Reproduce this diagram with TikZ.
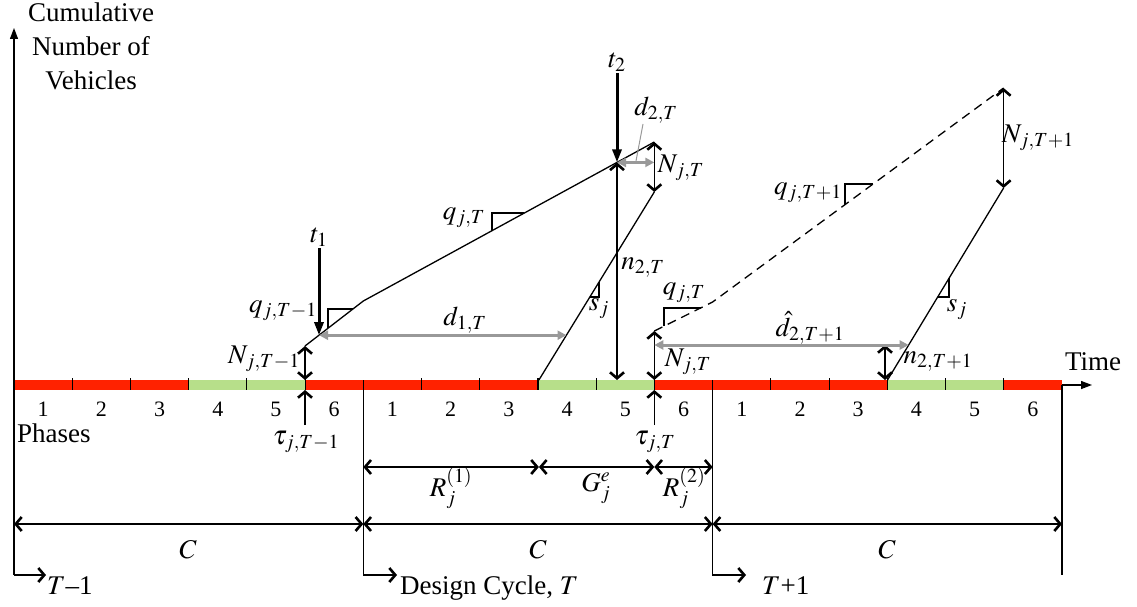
\documentclass[tikz,border=0pt]{standalone}
\usepackage{mathptmx}
\usepackage{fontspec}
\setmainfont{Liberation Serif}
\usetikzlibrary{arrows.meta}

\definecolor{redph}{HTML}{FF2200}
\definecolor{greenph}{HTML}{B7DF8A}
\definecolor{grayarr}{HTML}{999999}

\tikzset{
  lbl/.style={font=\fontsize{27}{34}\selectfont, inner sep=1pt},
  phnum/.style={font=\fontsize{22}{26}\selectfont, inner sep=0pt},
  dimarr/.style={<->, line width=1.4pt, >={Straight Barb[length=6pt,width=14pt,line width=2.6pt]}},
  onearr/.style={->, line width=1.4pt, >={Straight Barb[length=6pt,width=14pt,line width=2.6pt]}},
  grayarr/.style={<->, draw=grayarr, line width=3pt, >={Triangle[length=9pt,width=9pt]}},
  leader/.style={draw=grayarr, line width=1pt},
  tarr/.style={->, line width=3pt, >={Triangle[length=13pt,width=9pt]}},
  axarr/.style={->, line width=1.3pt, >={Triangle[length=11pt,width=8pt]}},
  cumline/.style={line width=1.3pt},
  slopebox/.style={line width=1.2pt},
}

\begin{document}
\begin{tikzpicture}[x=1pt,y=-1pt]
\useasboundingbox (0,0) rectangle (1137,607);

% phase bar of three cycles
\foreach \k in {0,1,2}{
  \pgfmathsetmacro{\b}{14+349.33*\k}
  \fill[redph] (\b,380) rectangle ({\b+3*58.22},390);
  \fill[greenph] ({\b+3*58.22},380) rectangle ({\b+5*58.22},390);
  \fill[redph] ({\b+5*58.22},380) rectangle ({\b+6*58.22},390);
  \foreach \i in {1,...,5}
    \draw[line width=1.2pt] ({\b+\i*58.22},378) -- ({\b+\i*58.22},390);
  \foreach \i in {1,...,6}
    \node[phnum] (ph\k\i) at ({\b+(\i-0.5)*58.22},409) {\i};
}

% axes and cycle boundaries
\coordinate (o) at (14,575);
\coordinate (ytop) at (14,28);
\coordinate (c0arr) at (46,575);
\coordinate (c1top) at (363.3,380);
\coordinate (c1arr) at (397,575);
\coordinate (c2top) at (712.6,380);
\coordinate (c2arr) at (746,575);
\coordinate (c3top) at (1062,385);
\coordinate (c3bot) at (1062,575);
\coordinate (xend) at (1092,385);
\draw[axarr] (o) -- (ytop);
\draw[onearr] (o) -- (c0arr);
\draw[onearr] (c1top) |- (c1arr);
\draw[onearr] (c2top) |- (c2arr);
\draw[line width=1.3pt] (c3top) -- (c3bot);
\draw[axarr] (c3top) -- (xend);

\node[lbl, anchor=north, align=center, inner sep=0pt] (ylab) at (91,3) {Cumulative\\Number of\\Vehicles};
\node[lbl] (time) at (1093,362) {Time};
\node[lbl, anchor=west] (phases) at (16,433) {Phases};
\node[lbl, anchor=base west] (tm1) at (46,594) {$T$--1};
\node[lbl, anchor=base west] (design) at (399,594) {Design Cycle, $T$};
\node[lbl, anchor=base west] (tp1) at (761,594) {$T$+1};

% cycle T arrivals and departures
\coordinate (a0) at (305,346);
\coordinate (a1) at (363.3,301);
\coordinate (a2) at (654.3,142);
\coordinate (dep0) at (538.9,380);
\coordinate (dep1) at (654.3,192);
\draw[cumline] (a0) -- (a1) -- (a2);
\draw[cumline] (dep0) -- (dep1);

\coordinate (t1s) at (319,248);
\coordinate (t1e) at (319,335.2);
\coordinate (t2s) at (617,73);
\coordinate (t2e) at (617,162.4);
\coordinate (n2b) at (617,380);
\coordinate (d1e) at (566.5,335.2);
\coordinate (d2e) at (654.3,162.4);
\coordinate (a0b) at (305,380);
\coordinate (ld0) at (643,124);
\coordinate (ld1) at (636,161);
\draw[tarr] (t1s) -- (t1e);
\draw[tarr] (t2s) -- (t2e);
\draw[dimarr] (a0) -- (a0b);
\draw[dimarr] (t2e) -- (n2b);
\draw[dimarr] (a2) -- (dep1);
\draw[grayarr] (t1e) -- (d1e);
\draw[grayarr] (t2e) -- (d2e);
\draw[leader] (ld0) -- (ld1);

\draw[slopebox] (328,328.2) -- (328,309) -- (352.9,309);
\draw[slopebox] (492,230.7) -- (492,213) -- (524.4,213);
\draw[slopebox] (589.7,297) -- (599,297) -- (599,281.9);

\node[lbl, anchor=south] (t1) at (t1s) {$t_1$};
\node[lbl, anchor=south] (t2) at (t2s) {$t_2$};
\node[lbl] (qtm1) at (283,311) {$q_{j,T-1}$};
\node[lbl] (ntm1) at (264,359) {$N_{j,T-1}$};
\node[lbl] (d1) at (465,320) {$d_{1,T}$};
\node[lbl] (qt) at (464,218) {$q_{j,T}$};
\node[lbl] (d2) at (656,110) {$d_{2,T}$};
\node[lbl] (nt) at (681,168) {$N_{j,T}$};
\node[lbl] (n2) at (643,268) {$n_{2,T}$};
\node[lbl] (sj) at (599,309) {$s_j$};

% cycle T+1
\coordinate (b0) at (654.3,331);
\coordinate (b1) at (712.6,302);
\coordinate (b2) at (1003.6,88);
\coordinate (dep2) at (887.5,380);
\coordinate (dep3) at (1003.6,188);
\draw[cumline, dash pattern=on 9pt off 6pt] (b0) -- (b1) -- (b2);
\draw[cumline] (dep2) -- (dep3);

\coordinate (b0b) at (654.3,380);
\coordinate (dhs) at (654.3,345);
\coordinate (dhe) at (908.7,345);
\coordinate (n3t) at (885,345);
\coordinate (n3b) at (885,380);
\draw[dimarr] (b0) -- (b0b);
\draw[dimarr] (b2) -- (dep3);
\draw[dimarr] (n3t) -- (n3b);
\draw[grayarr] (dhs) -- (dhe);

\draw[slopebox] (664,326.2) -- (664,308) -- (700.6,308);
\draw[slopebox] (845,204.6) -- (845,184) -- (873,184);
\draw[slopebox] (937.7,297) -- (949,297) -- (949,278.3);

\node[lbl] (qt2) at (684,293) {$q_{j,T}$};
\node[lbl] (dhat) at (810,328) {$\hat{d}_{2,T+1}$};
\node[lbl] (nt2) at (688,362) {$N_{j,T}$};
\node[lbl] (n3) at (938,362) {$n_{2,T+1}$};
\node[lbl, anchor=east] (qtp1) at (843,193) {$q_{j,T+1}$};
\node[lbl] (ntp1) at (1038,138) {$N_{j,T+1}$};
\node[lbl] (sj2) at (957,310) {$s_j$};

% tau marks
\coordinate (tau1s) at (305,425);
\coordinate (tau1e) at (305,390);
\coordinate (tau2s) at (654.3,425);
\coordinate (tau2e) at (654.3,390);
\draw[onearr] (tau1s) -- (tau1e);
\draw[onearr] (tau2s) -- (tau2e);
\node[lbl, inner sep=0pt] (tau1) at (306,442) {$\tau_{j,T-1}$};
\node[lbl, inner sep=0pt] (tau2) at (655,442) {$\tau_{j,T}$};

% red and green intervals
\coordinate (r1s) at (363.3,467);
\coordinate (g1s) at (538.9,467);
\coordinate (r2s) at (654.3,467);
\coordinate (r2e) at (712.6,467);
\draw[dimarr] (r1s) -- (g1s);
\draw[dimarr] (g1s) -- (r2s);
\draw[dimarr] (r2s) -- (r2e);
\node[lbl] (r1) at (451,488) {$R_j^{(1)}$};
\node[lbl] (ge) at (596,488) {$G_j^{e}$};
\node[lbl] (r2) at (684,488) {$R_j^{(2)}$};

% cycle lengths
\coordinate (cc0) at (14,524);
\coordinate (cc1) at (363.3,524);
\coordinate (cc2) at (712.6,524);
\coordinate (cc3) at (1062,524);
\draw[dimarr] (cc0) -- (cc1);
\draw[dimarr] (cc1) -- (cc2);
\draw[dimarr] (cc2) -- (cc3);
\node[lbl] (cl1) at (188,550) {$C$};
\node[lbl] (cl2) at (538,550) {$C$};
\node[lbl] (cl3) at (887,550) {$C$};
\end{tikzpicture}
\end{document}
